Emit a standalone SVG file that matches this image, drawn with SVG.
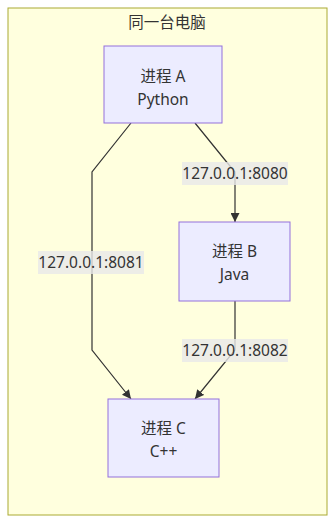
<svg xmlns="http://www.w3.org/2000/svg" width="335" height="523" viewBox="0 0 335 523">
<style>
text{font-family:"Noto Sans","Noto Sans CJK SC",sans-serif;font-size:15.5px;fill:#333;text-anchor:middle;dominant-baseline:central}
.node rect{fill:#ECECFF;stroke:#9370DB;stroke-width:1}
.edge{fill:none;stroke:#333;stroke-width:1.2}
.lbl{fill:rgba(232,232,232,0.8);stroke:none}
</style>
<defs>
<marker id="arr" viewBox="0 0 10 10" refX="10" refY="5" markerWidth="9" markerHeight="9" markerUnits="userSpaceOnUse" orient="auto">
<path d="M0,0 L10,5 L0,10 z" fill="#333"/>
</marker>
</defs>
<g id="cluster">
<rect x="8" y="8" width="319" height="507" fill="#ffffde" stroke="#aaaa33" stroke-width="1"/>
<text x="167" y="22">同一台电脑</text>
</g>
<g id="edges">
<path class="edge" d="M131,123 L92,172 L92,350 L131,399" marker-end="url(#arr)"/>
<path class="edge" d="M195,123 L225,160 L235,172 L235,222" marker-end="url(#arr)"/>
<path class="edge" d="M235,301 L235,350 L195,399" marker-end="url(#arr)"/>
</g>
<g id="edge-labels">
<g id="label-8080"><rect class="lbl" x="182" y="162" width="106" height="23"/><text x="235" y="173">127.0.0.1:8080</text></g>
<g id="label-8081"><rect class="lbl" x="38" y="251" width="106" height="23"/><text x="91" y="262">127.0.0.1:8081</text></g>
<g id="label-8082"><rect class="lbl" x="182" y="339" width="106" height="23"/><text x="235" y="350">127.0.0.1:8082</text></g>
</g>
<g id="nodeA" class="node"><rect x="104" y="46" width="118" height="77"/><text x="163" y="76">进程 A</text><text x="163" y="99">Python</text></g>
<g id="nodeB" class="node"><rect x="179" y="222" width="111" height="79"/><text x="234.5" y="251">进程 B</text><text x="234.5" y="274">Java</text></g>
<g id="nodeC" class="node"><rect x="108" y="399" width="111" height="78"/><text x="163.5" y="428">进程 C</text><text x="163.5" y="451">C++</text></g>
</svg>
